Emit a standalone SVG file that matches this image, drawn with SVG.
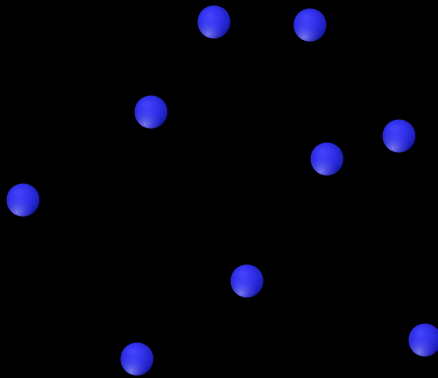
<svg xmlns="http://www.w3.org/2000/svg" width="438" height="378" viewBox="0 0 438 378">
<defs>
<radialGradient id="body" cx="0.45" cy="0.42" r="0.6" fx="0.36" fy="0.28">
<stop offset="0" stop-color="#4646ff"/>
<stop offset="0.5" stop-color="#3030ea"/>
<stop offset="0.85" stop-color="#2020c0"/>
<stop offset="1" stop-color="#121290"/>
</radialGradient>
<radialGradient id="refl" cx="0.32" cy="0.88" r="0.5">
<stop offset="0" stop-color="#9a9aff" stop-opacity="0.7"/>
<stop offset="0.6" stop-color="#7070ff" stop-opacity="0.25"/>
<stop offset="1" stop-color="#5050ff" stop-opacity="0"/>
</radialGradient>
<g id="ball">
<circle r="16.5" fill="url(#body)"/>
<circle r="16.5" fill="url(#refl)"/>
</g>
</defs>
<rect width="438" height="378" fill="#000"/>
<g id="n1"><use href="#ball" x="214" y="22"/></g>
<g id="n2"><use href="#ball" x="310" y="25"/></g>
<g id="n3"><use href="#ball" x="151" y="112"/></g>
<g id="n4"><use href="#ball" x="399" y="136"/></g>
<g id="n5"><use href="#ball" x="327" y="159"/></g>
<g id="n6"><use href="#ball" x="23" y="200"/></g>
<g id="n7"><use href="#ball" x="247" y="281"/></g>
<g id="n8"><use href="#ball" x="425" y="340"/></g>
<g id="n9"><use href="#ball" x="137" y="359"/></g>
<g id="connectors"/>
</svg>
